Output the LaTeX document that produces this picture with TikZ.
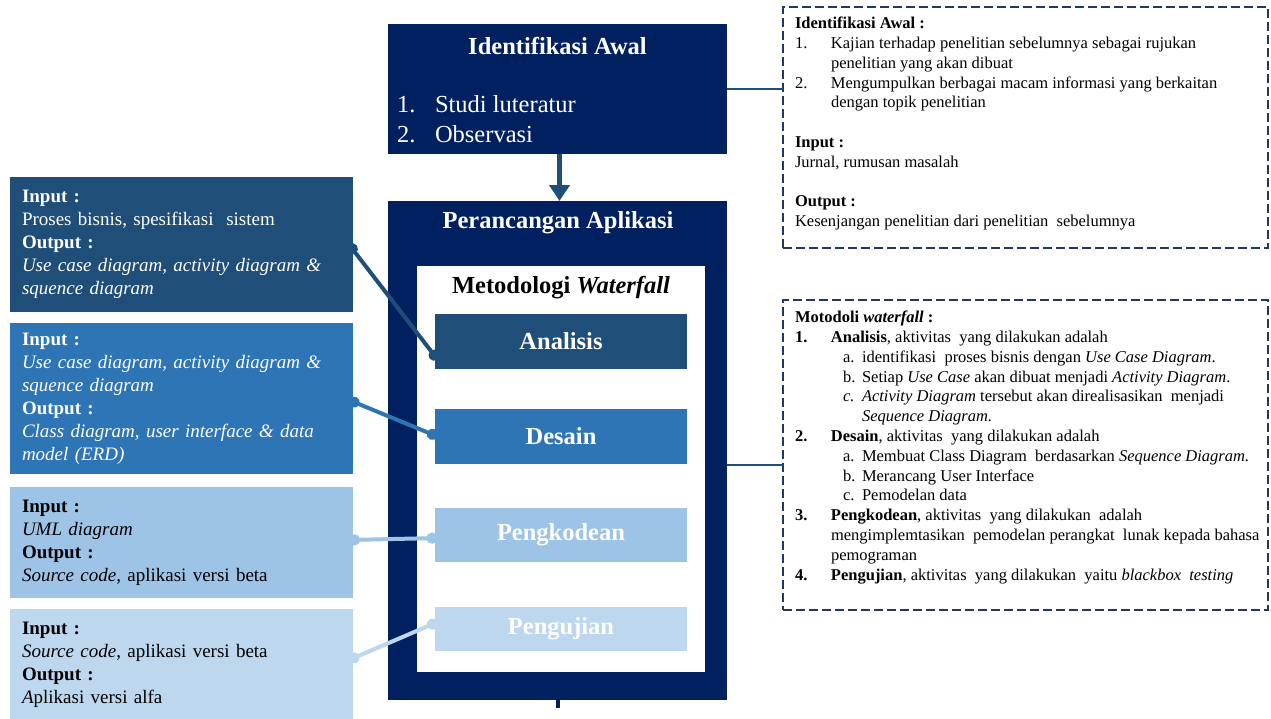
\documentclass[tikz,border=0pt]{standalone}
\usepackage{fontspec}
\setmainfont{Liberation Serif}
\usetikzlibrary{arrows.meta}
\definecolor{navy}{HTML}{002060}
\definecolor{stA}{HTML}{1F4E79}
\definecolor{stB}{HTML}{2E75B6}
\definecolor{stC}{HTML}{9DC3E6}
\definecolor{stD}{HTML}{BDD7EE}
\definecolor{dashc}{HTML}{1F3864}
\tikzset{
  panel/.style={rectangle, draw=none, inner sep=0pt, outer sep=0pt},
  sidebox/.style={panel, minimum width=343pt, text width=319pt, inner xsep=12pt,
    align=left, font=\fontsize{19}{23}\selectfont},
  stagebox/.style={panel, minimum width=252pt, text=white,
    font=\fontsize{24.5}{29}\selectfont\bfseries},
  notebox/.style={panel, draw=dashc, line width=2.8pt, dash pattern=on 9pt off 4pt},
  notetext/.style={panel, anchor=north west, align=left,
    font=\fontsize{16.5}{19.8}\selectfont},
  link/.style={line width=4pt, {Circle[length=11pt]}-{Circle[length=11pt]}},
  tie/.style={stA, line width=2.5pt}
}
\newcommand{\itm}[1]{\makebox[36pt][l]{#1}}
\newcommand{\sub}[1]{\hspace*{48pt}\makebox[19pt][l]{#1}}
\begin{document}
\begin{tikzpicture}[x=1pt,y=-1pt]
\useasboundingbox (0,0) rectangle (1271,718);

% --- main process column ---
\node[panel, fill=navy, minimum width=339pt, minimum height=130pt] (idbox) at (557.5,89) {};
\node[panel, text=white, font=\fontsize{24.5}{29}\selectfont\bfseries] (idtitle) at (557.5,46) {Identifikasi Awal};
\node[panel, text=white, anchor=north west, align=left, font=\fontsize{24.5}{30}\selectfont] (idlist) at (397,95)
  {\makebox[38pt][l]{1.}Studi luteratur\\ \makebox[38pt][l]{2.}Observasi};

\node[panel, fill=navy, minimum width=339pt, minimum height=499pt] (pr) at (557.5,450.5) {};
\node[panel, text=white, font=\fontsize{24.5}{29}\selectfont\bfseries] (prtitle) at (558,223) {Perancangan Aplikasi};
\node[panel, fill=white, minimum width=288pt, minimum height=406pt] (wf) at (561,469) {};
\node[panel, font=\fontsize{24.5}{29}\selectfont\bfseries] (wftitle) at (561,288) {Metodologi \textit{Waterfall}};

\node[stagebox, fill=stA, minimum height=55pt] (an) at (561,341.5) {Analisis};
\node[stagebox, fill=stB, minimum height=55pt] (de) at (561,436.5) {Desain};
\node[stagebox, fill=stC, minimum height=54pt] (pk) at (561,535) {Pengkodean};
\node[stagebox, fill=stD, minimum height=44pt] (pj) at (561,629) {Pengujian};

\draw[stA, line width=5pt, -{Triangle[length=16pt,width=20pt]}]
  ([xshift=2pt]idbox.south) -- ([xshift=2pt]pr.north);
\coordinate (prout) at (557.5,708);
\draw[navy, line width=4pt] (pr.south) -- (prout);

% --- input / output boxes ---
\node[sidebox, fill=stA, text=white, minimum height=135pt] (io1) at (181.5,244.5)
  {\textbf{Input :}\\ Proses bisnis, spesifikasi\ \ sistem\\ \textbf{Output :}\\
   \textit{Use case diagram, activity diagram \&}\\ \textit{squence diagram}};
\node[sidebox, fill=stB, text=white, minimum height=151pt] (io2) at (181.5,398.5)
  {\textbf{Input :}\\ \textit{Use case diagram, activity diagram \&}\\ \textit{squence diagram}\\
   \textbf{Output :}\\ \textit{Class diagram, user interface \& data}\\ \textit{model (ERD)}};
\node[sidebox, fill=stC, text=black, minimum height=111pt] (io3) at (181.5,542.5)
  {\textbf{Input :}\\ \textit{UML diagram}\\ \textbf{Output :}\\ \textit{Source code}, aplikasi versi beta};
\node[sidebox, fill=stD, text=black, minimum height=111pt] (io4) at (181.5,664.5)
  {\textbf{Input :}\\ \textit{Source code}, aplikasi versi beta\\ \textbf{Output :}\\ \textit{A}plikasi versi alfa};

% --- notes on the right ---
\node[notebox, minimum width=485pt, minimum height=241pt] (idnote) at (1025.5,127.5) {};
\node[notetext] (idnotetext) at (795,17)
  {\textbf{Identifikasi Awal :}\\
   \itm{1.}Kajian terhadap penelitian sebelumnya sebagai rujukan\\
   \hspace*{36pt}penelitian yang akan dibuat\\
   \itm{2.}Mengumpulkan berbagai macam informasi yang berkaitan\\
   \hspace*{36pt}dengan topik penelitian\\[19.8pt]
   \textbf{Input :}\\
   Jurnal, rumusan masalah\\[19.8pt]
   \textbf{Output :}\\
   Kesenjangan penelitian dari penelitian\ \ sebelumnya};

\node[notebox, minimum width=485pt, minimum height=310pt] (wfnote) at (1025.5,455) {};
\node[notetext] (wfnotetext) at (795,311)
  {\textbf{Motodoli \textit{waterfall} :}\\
   \itm{\textbf{1.}}\textbf{Analisis}, aktivitas\ \ yang dilakukan adalah\\
   \sub{a.}identifikasi\ \ proses bisnis dengan \textit{Use Case Diagram}.\\
   \sub{b.}Setiap \textit{Use Case} akan dibuat menjadi \textit{Activity Diagram}.\\
   \sub{\textit{c.}}\textit{Activity Diagram} tersebut akan direalisasikan\ \ menjadi\\
   \hspace*{67pt}\textit{Sequence Diagram.}\\
   \itm{\textbf{2.}}\textbf{Desain}, aktivitas\ \ yang dilakukan adalah\\
   \sub{a.}Membuat Class Diagram\ \ berdasarkan \textit{Sequence Diagram.}\\
   \sub{b.}Merancang User Interface\\
   \sub{c.}Pemodelan data\\
   \itm{\textbf{3.}}\textbf{Pengkodean}, aktivitas\ \ yang dilakukan\ \ adalah\\
   \hspace*{36pt}mengimplemtasikan\ \ pemodelan perangkat\ \ lunak kepada bahasa\\
   \hspace*{36pt}pemograman\\
   \itm{\textbf{4.}}\textbf{Pengujian}, aktivitas\ \ yang dilakukan\ \ yaitu \textit{blackbox\ \ testing}};

% --- connectors ---
\draw[tie] (idbox.east) -- (idbox.east -| idnote.west);
\draw[tie] ([yshift=-14.5pt]pr.east) -- ([yshift=-14.5pt]pr.east -| wfnote.west);

\draw[link, stA] ([xshift=-4pt]io1.east) -- ([xshift=2.5pt,yshift=-18pt]an.west);
\draw[link, stB] ([xshift=-4pt,yshift=-1.5pt]io2.east) -- ([xshift=2.5pt]de.west);
\draw[link, stC] ([xshift=-4pt,yshift=2.5pt]io3.east) -- ([xshift=2.5pt,yshift=-3pt]pk.west);
\draw[link, stD] ([xshift=-4pt,yshift=4.5pt]io4.east) -- ([xshift=2.5pt,yshift=7pt]pj.west);
\end{tikzpicture}
\end{document}
